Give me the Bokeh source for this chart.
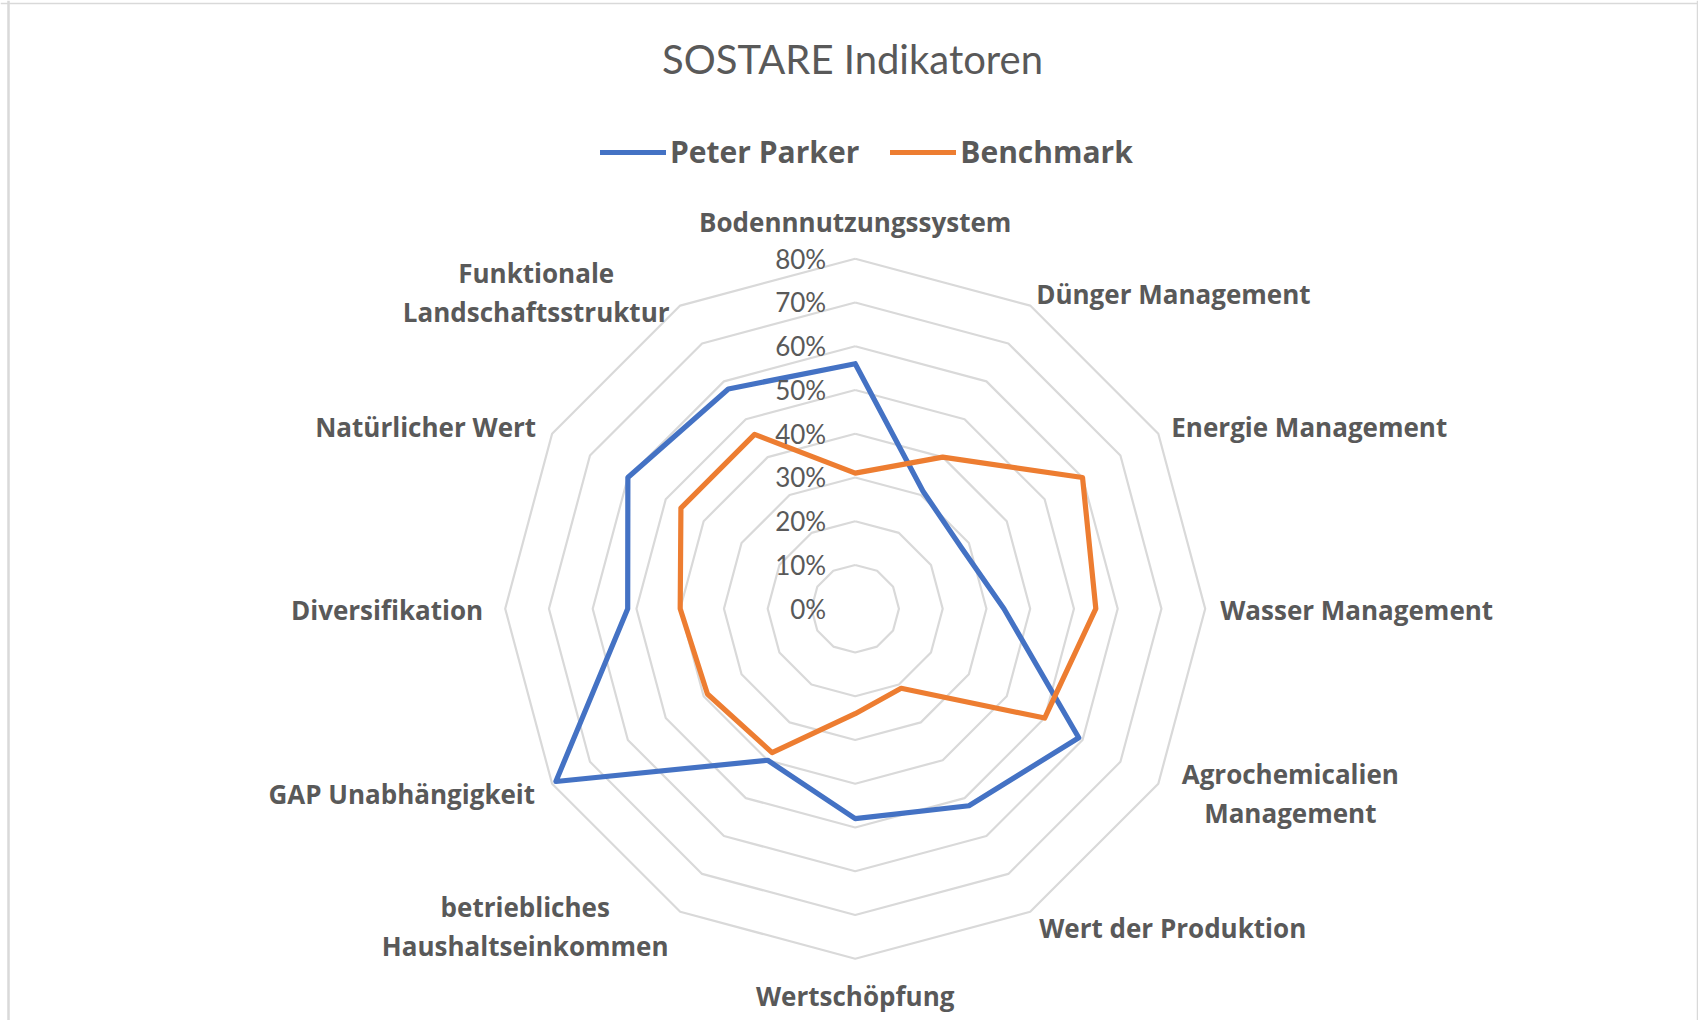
import numpy as np
from bokeh.plotting import figure
from bokeh.models import Range1d, Legend, LegendItem, Span
from bokeh.core.properties import value
from bokeh.embed import file_html
from bokeh.resources import INLINE

# ---------------- data ----------------
categories = [
    "Bodennnutzungssystem",
    "Dünger Management",
    "Energie Management",
    "Wasser Management",
    "Agrochemicalien\nManagement",
    "Wert der Produktion",
    "Wertschöpfung",
    "betriebliches\nHaushaltseinkommen",
    "GAP Unabhängigkeit",
    "Diversifikation",
    "Natürlicher Wert",
    "Funktionale\nLandschaftsstruktur",
]
peter_parker = [56, 31, 28, 34, 59, 52, 48, 40, 79, 52, 60, 58]
benchmark = [31, 40, 60, 55, 50, 21, 24, 38, 39, 40, 46, 46]
ring_values = [0, 10, 20, 30, 40, 50, 60, 70, 80]
ring_labels = ["0%", "10%", "20%", "30%", "40%", "50%", "60%", "70%", "80%"]
title_text = "SOSTARE Indikatoren"
series_names = ["Peter Parker", "Benchmark"]

# ---------------- style / layout ----------------
FONT = "Lato"
LFONT = "Open Sans"
TXT = "#595959"
GRID = "#d9d9d9"
BLUE = "#4472C4"
ORANGE = "#ED7D31"
S = 4.375            # px per percent
W, H = 1698, 1020
CX, CY = 854.7, 608.2  # centre in figure px (from top-left)

# label offsets (px from 80% vertex): (dx, [dy per line], align)
label_layout = [
    (0, [-37], "center"),
    (6, [-12], "left"),
    (13, [-7], "left"),
    (15, [1], "left"),
    (132, [-10, 29], "center"),
    (9, [16], "left"),
    (0, [37], "center"),
    (-155, [-5, 34], "center"),
    (-17, [10], "right"),
    (-22, [1], "right"),
    (-16, [-7], "right"),
    (-144, [-33, 6], "center"),
]

n = len(categories)
ang = np.arange(n) * 2 * np.pi / n
dx_u = np.sin(ang)
dy_u = np.cos(ang)

p = figure(width=W, height=H, output_backend="svg", toolbar_location=None,
           x_axis_location=None, y_axis_location=None, title=None,
           x_range=Range1d(-CX / S, (W - CX) / S),
           y_range=Range1d(-(H - CY) / S, CY / S),
           min_border=0)
p.grid.visible = False
p.outline_line_color = None
p.background_fill_color = "white"
p.border_fill_color = "white"

# chart border (left, top, right)
p.add_layout(Span(location=(8 - CX) / S, dimension="height", line_color=GRID, line_width=2.5))
p.add_layout(Span(location=(CY - 3) / S, dimension="width", line_color=GRID, line_width=1.3))
p.add_layout(Span(location=(1697 - CX) / S, dimension="height", line_color=GRID, line_width=1.5))

# rings
xs_r, ys_r = [], []
for v in ring_values[1:]:
    xs_r.append(list(np.append(v * dx_u, v * dx_u[0])))
    ys_r.append(list(np.append(v * dy_u, v * dy_u[0])))
p.multi_line(xs_r, ys_r, line_color=GRID, line_width=2.2)

# series
def closed(vals):
    v = np.array(vals, dtype=float)
    return np.append(v * dx_u, v[0] * dx_u[0]), np.append(v * dy_u, v[0] * dy_u[0])

bx, by = closed(peter_parker)
ox, oy = closed(benchmark)
r1 = p.line(bx, by, line_color=BLUE, line_width=5.2, line_join="round", line_cap="round")
r2 = p.line(ox, oy, line_color=ORANGE, line_width=5.2, line_join="round", line_cap="round")

# ring tick labels
p.text(x=[0] * len(ring_values), y=ring_values, text=ring_labels,
       x_offset=-29, text_align="right", text_baseline="middle",
       text_font=value(FONT), text_font_size="26px", text_color=TXT)

# category labels
Rmax = ring_values[-1]
for i, lab in enumerate(categories):
    ddx, ddys, al = label_layout[i]
    vx, vy = Rmax * dx_u[i], Rmax * dy_u[i]
    for line, ddy in zip(lab.split("\n"), ddys):
        p.text(x=[vx + ddx / S], y=[vy - ddy / S], text=[line],
               text_align=al, text_baseline="middle",
               text_font=value(LFONT), text_font_size="26px",
               text_font_style="bold", text_color=TXT)

# title
p.text(x=[(852 - CX) / S], y=[(CY - 58) / S], text=[title_text],
       text_align="center", text_baseline="middle",
       text_font=value(FONT), text_font_size="40px", text_color=TXT)

legend = Legend(items=[LegendItem(label=series_names[0], renderers=[r1]),
                       LegendItem(label=series_names[1], renderers=[r2])],
                orientation="horizontal", location=(600, H - 152 - 20),
                glyph_width=66, glyph_height=30, label_height=30,
                label_standoff=4, spacing=31, padding=0, margin=0,
                border_line_color=None, background_fill_alpha=0,
                label_text_font=LFONT, label_text_font_size="30px",
                label_text_font_style="bold", label_text_color=TXT)
p.add_layout(legend, "center")

open("out.html", "w").write(file_html(p, INLINE))
